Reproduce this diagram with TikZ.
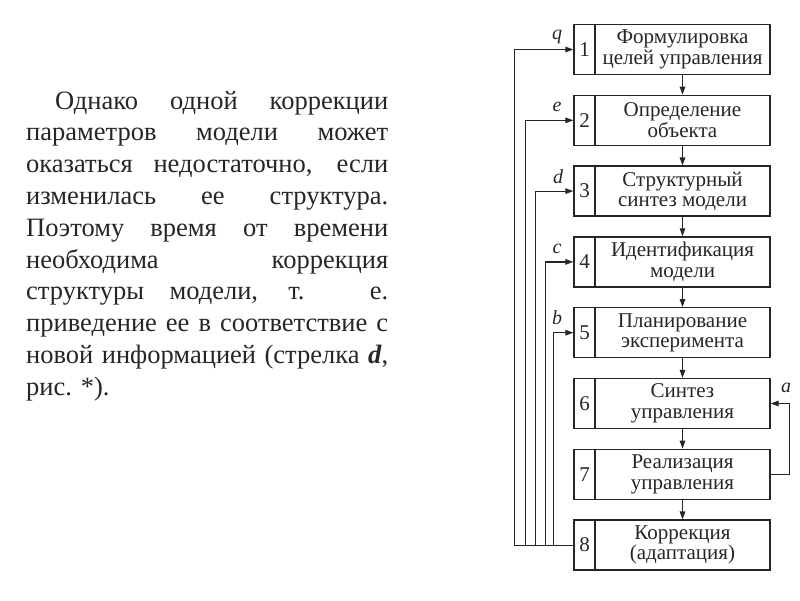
\documentclass[tikz,border=0pt]{standalone}
\usepackage{fontspec}
\setmainfont{Liberation Serif}
\usetikzlibrary{arrows.meta}
\begin{document}
\begin{tikzpicture}[x=1pt,y=-1pt,
  ln/.style={line width=1.2pt, draw=black!85},
  arr/.style={ln, -{Triangle[length=8pt,width=5.5pt]}},
  txtbox/.style={draw=black!85, line width=1.3pt, minimum width=175pt, minimum height=50pt, inner sep=0pt, align=center, font=\fontsize{21}{20.5}\selectfont, text=black!85},
  numbox/.style={draw=black!85, line width=1.3pt, minimum width=21pt, minimum height=50pt, inner sep=0pt, font=\fontsize{21}{20}\selectfont, text=black!85},
  lbl/.style={font=\fontsize{20}{20}\selectfont\itshape, text=black!85, inner sep=0pt}]
\useasboundingbox (0,0) rectangle (800,600);
\fill[white] (0,0) rectangle (800,600);

\node[anchor=north west, text width=362pt, align=justify, inner sep=0pt,
  font=\fontsize{26.5}{31.8}\selectfont, text=black!85] (para) at (26,86.7)
{\strut\hspace*{29pt}Однако одной коррекции\linebreak
параметров модели может\linebreak
оказаться недостаточно, если\linebreak
изменилась ее структура.\linebreak
Поэтому время от времени\linebreak
необходима коррекция\linebreak
структуры модели, т. е.\linebreak
приведение ее в соответствие с\linebreak
новой информацией (стрелка \textbf{\textit{d}},\linebreak
рис. *).};

\node[numbox] (n1) at (584.5,49.5) {1};
\node[txtbox] (b1) at (682.5,49.5) {Формулировка\\целей управления};
\node[numbox] (n2) at (584.5,120.3) {2};
\node[txtbox] (b2) at (682.5,120.3) {Определение\\объекта};
\node[numbox] (n3) at (584.5,191.1) {3};
\node[txtbox] (b3) at (682.5,191.1) {Структурный\\синтез модели};
\node[numbox] (n4) at (584.5,261.9) {4};
\node[txtbox] (b4) at (682.5,261.9) {Идентификация\\модели};
\node[numbox] (n5) at (584.5,332.7) {5};
\node[txtbox] (b5) at (682.5,332.7) {Планирование\\эксперимента};
\node[numbox] (n6) at (584.5,403.5) {6};
\node[txtbox] (b6) at (682.5,403.5) {Синтез\\управления};
\node[numbox] (n7) at (584.5,474.3) {7};
\node[txtbox] (b7) at (682.5,474.3) {Реализация\\управления};
\node[numbox] (n8) at (584.5,545.1) {8};
\node[txtbox] (b8) at (682.5,545.1) {Коррекция\\(адаптация)};

\foreach \i/\j in {1/2,2/3,3/4,4/5,5/6,6/7,7/8}
  \draw[arr] (b\i.south) -- (b\j.north);

\draw[arr] (n8.west) -- ++(-59,0) |- (n1.west);
\draw[arr] (n8.west) -- ++(-48,0) |- (n2.west);
\draw[arr] (n8.west) -- ++(-38,0) |- (n3.west);
\draw[arr] (n8.west) -- ++(-28,0) |- (n4.west);
\draw[arr] (n8.west) -- ++(-20,0) |- (n5.west);
\draw[arr] (b7.east) -- ++(19,0) |- (b6.east);

\node[lbl] (lq) at (557,37) {q};
\node[lbl] (le) at (557,107) {e};
\node[lbl] (ld) at (558,177) {d};
\node[lbl] (lc) at (557,249) {c};
\node[lbl] (lb) at (557,318) {b};
\node[lbl] (la) at (786,388) {a};
\end{tikzpicture}
\end{document}
